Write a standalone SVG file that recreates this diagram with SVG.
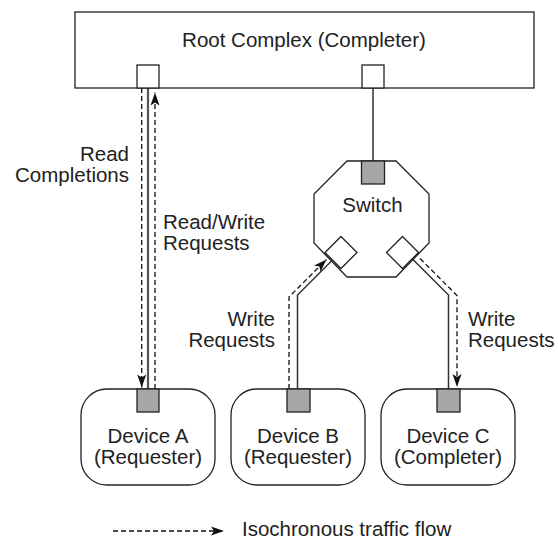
<svg xmlns="http://www.w3.org/2000/svg" width="558" height="540" viewBox="0 0 558 540">
<style>
  text { font-family: "Liberation Sans", Arial, sans-serif; font-size: 20.5px; fill: #222; }
  .box { fill: #fff; stroke: #222; stroke-width: 1.3; }
  .port { fill: #fff; stroke: #222; stroke-width: 1.3; }
  .gport { fill: #a6a6a6; stroke: #222; stroke-width: 1.3; }
  .link { fill: none; stroke: #333; stroke-width: 1.5; }
  .thick { fill: none; stroke: #555; stroke-width: 2.2; }
  .flow { fill: none; stroke: #111; stroke-width: 1.3; stroke-dasharray: 5 3; }
  .mid { text-anchor: middle; }
  .end { text-anchor: end; }
</style>
<defs>
  <marker id="arr" markerUnits="userSpaceOnUse" markerWidth="16" markerHeight="12" viewBox="-14 -6 16 12" refX="0" refY="0" orient="auto">
    <path d="M0,0 L-13,-4.5 L-10,0 L-13,4.5 Z" fill="#111"/>
  </marker>
</defs>

<g id="connectors">
  <line class="thick" x1="148" y1="88" x2="148" y2="389"/>
  <line class="link" x1="373" y1="88" x2="373" y2="161"/>
  <polyline class="link" points="297.5,389 297.5,295 332.5,260"/>
  <polyline class="link" points="412.2,258.8 448.5,295 448.5,389"/>
  <line class="flow" x1="141.7" y1="88" x2="141.7" y2="387.5" marker-end="url(#arr)"/>
  <line class="flow" x1="155" y1="389" x2="155" y2="92.5" marker-end="url(#arr)"/>
  <polyline class="flow" points="289,389 289,297 326.5,259.5" marker-end="url(#arr)"/>
  <path class="flow" d="M345,236 Q368,215 396,239" marker-end="url(#arr)"/>
  <polyline class="flow" points="420,258.5 457,295.5 457,387" marker-end="url(#arr)"/>
</g>

<g id="root-complex">
  <rect class="box" x="75" y="12" width="459" height="76"/>
  <rect class="port" x="137" y="65" width="22" height="23"/>
  <rect class="port" x="362" y="65" width="22" height="23"/>
  <text class="mid" x="304" y="47">Root Complex (Completer)</text>
</g>

<g id="switch">
  <polygon class="box" points="347,161 396,161 429,194 429,243 396,277 347,277 314,243 314,194"/>
  <rect class="gport" x="361.5" y="161" width="23" height="23"/>
  <polygon class="port" points="341,236.5 357,252.5 341,268.5 325,252.5"/>
  <polygon class="port" points="402.5,236.5 418.5,252.5 402.5,268.5 386.5,252.5"/>
  <text class="mid" x="372.5" y="212">Switch</text>
</g>

<g id="device-a">
  <rect class="box" x="81" y="389" width="134" height="96" rx="26"/>
  <rect class="gport" x="137" y="389" width="22" height="23"/>
  <text class="mid" x="148" y="443">Device A<tspan x="148" y="464">(Requester)</tspan></text>
</g>

<g id="device-b">
  <rect class="box" x="231" y="389" width="134" height="96" rx="26"/>
  <rect class="gport" x="287" y="389" width="23" height="23"/>
  <text class="mid" x="298" y="443">Device B<tspan x="298" y="464">(Requester)</tspan></text>
</g>

<g id="device-c">
  <rect class="box" x="381" y="389" width="134" height="96" rx="26"/>
  <rect class="gport" x="437" y="389" width="23" height="23"/>
  <text class="mid" x="448" y="443">Device C<tspan x="448" y="464">(Completer)</tspan></text>
</g>

<g id="labels">
  <text class="end" x="129" y="161">Read<tspan x="129" y="182">Completions</tspan></text>
  <text x="163" y="229">Read/Write<tspan x="163" y="250">Requests</tspan></text>
  <text class="end" x="275" y="326">Write<tspan x="275" y="347">Requests</tspan></text>
  <text x="468" y="326">Write<tspan x="468" y="347">Requests</tspan></text>
</g>

<g id="legend">
  <line class="flow" x1="113" y1="531" x2="224" y2="531" marker-end="url(#arr)"/>
  <text x="242" y="535.5">Isochronous traffic flow</text>
</g>
</svg>
